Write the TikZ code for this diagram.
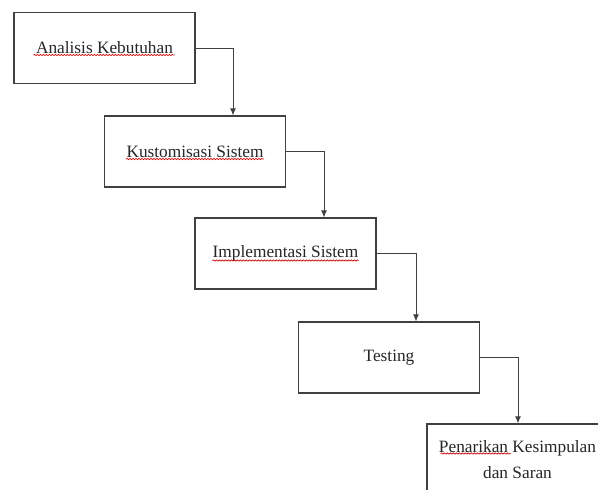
\documentclass[tikz,border=0pt]{standalone}
\usepackage{fontspec}
\setmainfont{Liberation Serif}
\usetikzlibrary{arrows.meta,calc,decorations.pathmorphing}
\begin{document}
\begin{tikzpicture}[x=1pt,y=-1pt,
  box/.style={draw=black!75,line width=1.1pt,rectangle,minimum width=181pt,minimum height=71pt,
    font=\fontsize{17.3}{26}\selectfont,text=black!85,align=center,inner sep=0pt},
  arr/.style={draw=black!75,line width=1pt,-{Latex[length=7pt,width=6pt]}},
  squig/.style={draw=red!80!black,line width=0.7pt,decorate,decoration={snake,amplitude=0.6pt,segment length=3pt}}]
\clip (0,0) rectangle (598,490);
\fill[white] (0,0) rectangle (598,490);
\node[box] (b1) at (104.5,48) {Analisis Kebutuhan};
\node[box] (b2) at (195,151.5) {Kustomisasi Sistem};
\node[box] (b3) at (285.5,253.5) {Implementasi Sistem};
\node[box] (b4) at (389,357.5) {Testing};
\node[box] (b5) at (517.5,459.5) {Penarikan Kesimpulan\\dan Saran};
\coordinate (a1) at (233,0);
\coordinate (a2) at (324,0);
\coordinate (a3) at (416,0);
\coordinate (a4) at (518,0);
\draw[arr] (b1.east) -| (a1 |- b2.north);
\draw[arr] (b2.east) -| (a2 |- b3.north);
\draw[arr] (b3.east) -| (a3 |- b4.north);
\draw[arr] (b4.east) -| (a4 |- b5.north);
\draw[squig] ($(b1.center)+(-71,7)$) -- ($(b1.center)+(70,7)$);
\draw[squig] ($(b2.center)+(-69,7.5)$) -- ($(b2.center)+(69,7.5)$);
\draw[squig] ($(b3.center)+(-73,7)$) -- ($(b3.center)+(73,7)$);
\draw[squig] ($(b5.center)+(-77,-6)$) -- ($(b5.center)+(-7,-6)$);
\end{tikzpicture}
\end{document}
